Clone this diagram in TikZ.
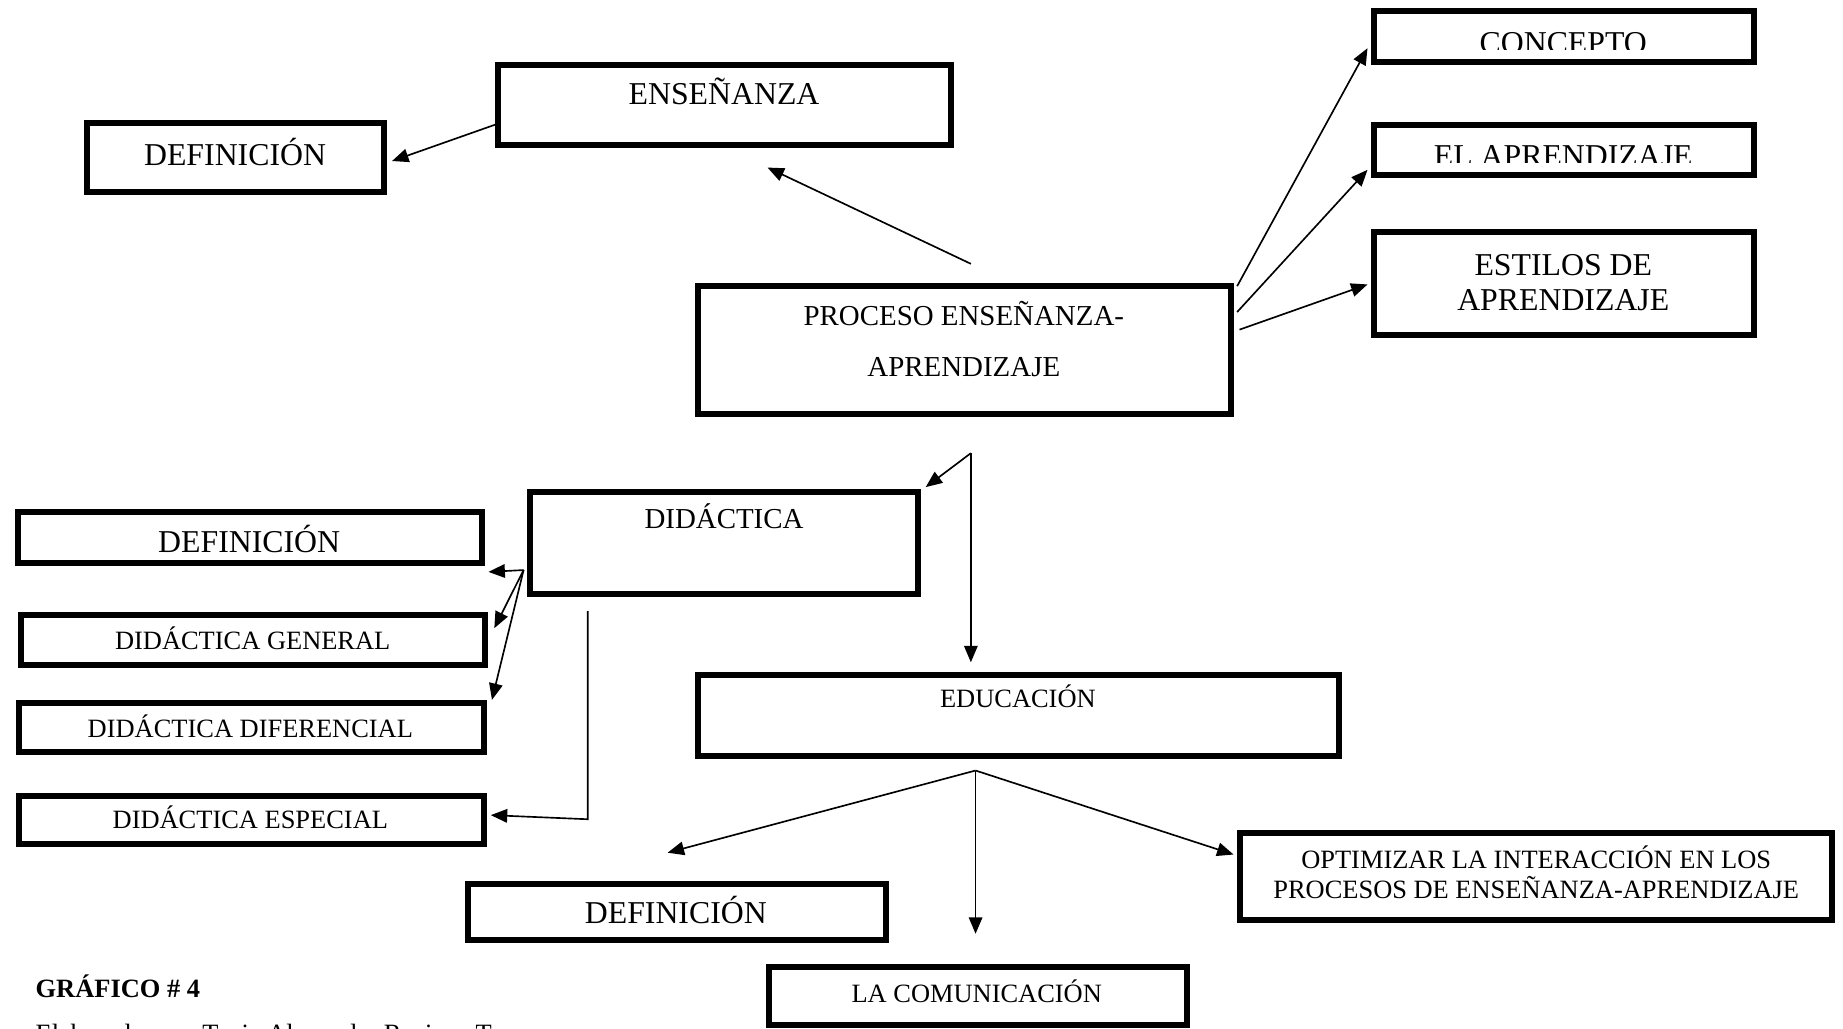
\documentclass[tikz,border=0pt]{standalone}
\usepackage{fontspec}
\setmainfont{Liberation Serif}
\usetikzlibrary{arrows.meta}
\usetikzlibrary{calc}
\usetikzlibrary{fit}

\begin{document}
\begin{tikzpicture}[x = 0.02cm, y = -0.02cm,
	box/.style = {draw, line width = 2.9pt, inner sep = 0pt},
	arr/.style = {-{Triangle[length = 2.8mm, width = 2.3mm]}, line width = 0.8pt},
	big/.style = {font = \fontsize{15.4}{18}\selectfont, anchor = base},
	mid/.style = {font = \fontsize{14}{17}\selectfont, anchor = base},
	small/.style = {font = \fontsize{12.8}{15}\selectfont, anchor = base}]
	\useasboundingbox (0, 0) rectangle (1568, 875);
	\foreach \name/\a/\b/\c/\d in {def1/74/105/327/163, ens/424/55/809/123, proc/594/243/1047/352, conc/1169/9/1492/53, apr/1169/106/1492/149, est/1169/197/1492/285, did/451/419/781/505, def2/15/436/410/479, dgen/18/523/413/566, ddif/16/598/412/640, desp/16/677/412/718, edu/594/574/1139/643, def3/398/752/754/800, com/654/823/1010/872, opt/1055/709/1559/783}{
		\node[box, fit = {(\a, \b) (\c, \d)}] (\name) {};}
	\foreach \name/\x/\y/\txt in {def1t/200/141/DEFINICIÓN, enst/616/89/ENSEÑANZA, est1/1330/234/ESTILOS DE, est2/1330/264/APRENDIZAJE, def2t/212/470/DEFINICIÓN, def3t/575/786/DEFINICIÓN}{
		\node[big] (\name) at (\x, \y) {\txt};}
	\foreach \name/\x/\y/\txt in {proc1/820/277/PROCESO ENSEÑANZA-, proc2/820/320/APRENDIZAJE, didt/616/450/DIDÁCTICA}{
		\node[mid] (\name) at (\x, \y) {\txt};}
	\foreach \name/\x/\y/\txt in {dgent/215/552.5/DIDÁCTICA GENERAL, ddift/213/627.5/DIDÁCTICA DIFERENCIAL, despt/213/704.5/DIDÁCTICA ESPECIAL, edut/866/601.5/EDUCACIÓN, comt/831/852.5/LA COMUNICACIÓN, opt1/1307/738.5/OPTIMIZAR LA INTERACCIÓN EN LOS, opt2/1307/764.5/PROCESOS DE ENSEÑANZA-APRENDIZAJE}{
		\node[small] (\name) at (\x, \y) {\txt};}
	\begin{scope}
		\clip (1169, 0) rectangle (1492, 42.5);
		\node[big] (conct) at (1330, 45.5) {CONCEPTO};
	\end{scope}
	\begin{scope}
		\clip (1169, 100) rectangle (1492, 138.5);
		\node[big] (aprt) at (1330, 142) {EL APRENDIZAJE};
	\end{scope}
	\node[anchor = base west, inner sep = 0pt, font = \fontsize{12.8}{15}\selectfont\bfseries] (graf) at (30, 848.5) {GRÁFICO \# 4};
	\node[anchor = base west, inner sep = 0pt, font = \fontsize{12.8}{15}\selectfont] (elab) at (30, 887) {Elaborado por: Tania Alexandra Recinos T.};
	\draw[arr] ($(ens.west) + (0, 17)$) -- ($(def1.east) + (4, 3)$);
	\draw[arr] ($(proc.north) + (5.5, -16)$) -- ($(ens.south) + (36.5, 17)$);
	\draw[arr] ($(proc.north east) + (3, 3)$) -- ($(conc.west) + (-3, 10)$);
	\draw[arr] ($(proc.north east) + (3, 25)$) -- ($(apr.west) + (-3, 17)$);
	\draw[arr] ($(proc.north east) + (5, 40)$) -- ($(est.west) + (-3, 1)$);
	\coordinate (split) at ($(proc.south) + (5.5, 31)$);
	\draw[arr] (split) -- ($(did.north east) + (4, -2)$);
	\draw[arr] (split) -- ($(split |- edu.north) + (0, -8)$);
	\coordinate (dfork) at ($(did.west) + (-3, 23)$);
	\draw[arr] (dfork) -- ($(def2.south east) + (3, 5)$);
	\draw[arr] (dfork) -- ($(dgen.north east) + (5, 14)$);
	\draw[arr] (dfork) -- ($(ddif.north east) + (4, 0)$);
	\coordinate (dtop) at (500, 520);
	\coordinate (dbend) at (500, 697);
	\draw[arr] (dtop) -- (dbend) -- ($(desp.east) + (3, -4)$);
	\coordinate (efork) at ($(edu.south) + (-36.5, 10)$);
	\draw[arr] (efork) -- ($(def3.north) + (-8, -24)$);
	\draw[arr] (efork) -- ($(com.north) + (-2, -26)$);
	\draw[arr] (efork) -- ($(opt.west) + (-3, -19)$);
\end{tikzpicture}
\end{document}
